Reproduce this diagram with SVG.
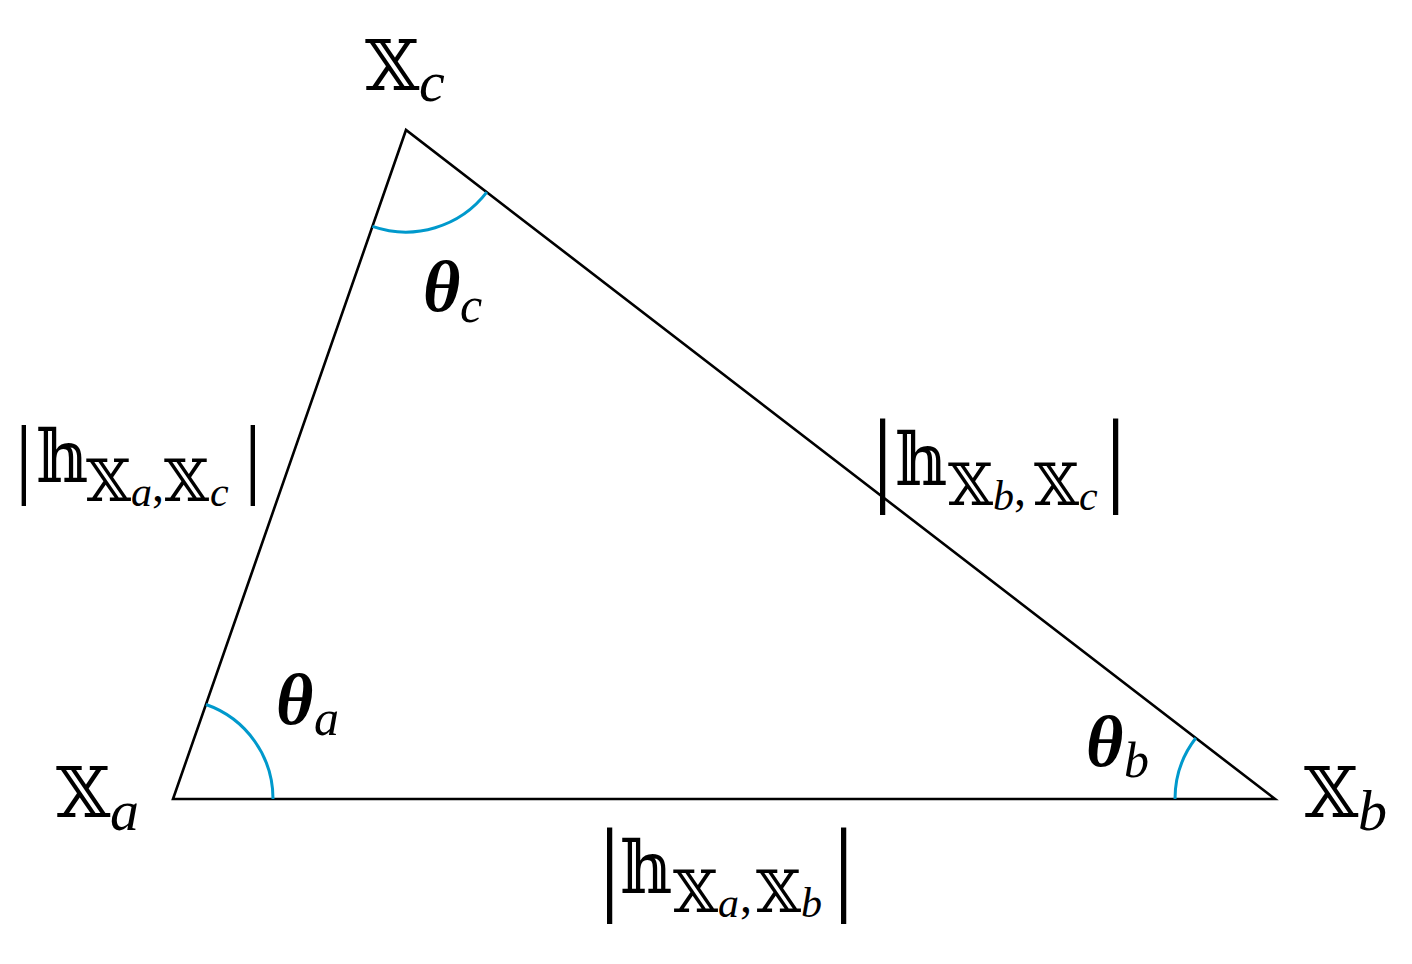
<svg xmlns="http://www.w3.org/2000/svg" width="1412" height="964" viewBox="0 0 1412 964">
<style>
.edge{stroke:#000;stroke-width:2.6;fill:none;stroke-linejoin:miter}
.arc{stroke:#0099cc;stroke-width:3;fill:none}
</style>
<rect width="1412" height="964" fill="#fff"/>
<g id="connectors">
<path class="edge" d="M173,799 L1275,799 L406,130 Z"/>
<path class="arc" d="M273,799 A100,100 0 0 0 206,704.5"/>
<path class="arc" d="M372.4,226.4 A102,102 0 0 0 486.8,192.2"/>
<path class="arc" d="M1175,799 A100,100 0 0 1 1195.8,738"/>
</g>
<g id="node-xa"><text x="56" y="817" font-size="70" font-family="DejaVu Serif">𝕏</text><text x="110" y="830" font-size="58" font-family="Liberation Serif" font-style="italic">a</text></g>
<g id="node-xb"><text x="1304" y="817" font-size="70" font-family="DejaVu Serif">𝕏</text><text x="1358" y="830" font-size="58" font-family="Liberation Serif" font-style="italic">b</text></g>
<g id="node-xc"><text x="365" y="90" font-size="70" font-family="DejaVu Serif">𝕏</text><text x="419" y="101" font-size="58" font-family="Liberation Serif" font-style="italic">c</text></g>
<g id="theta-a"><text x="276" y="724" font-size="72" font-family="Liberation Serif" font-style="italic" font-weight="bold">θ</text><text x="314" y="735" font-size="50" font-family="Liberation Serif" font-style="italic">a</text></g>
<g id="theta-b"><text x="1086" y="766" font-size="72" font-family="Liberation Serif" font-style="italic" font-weight="bold">θ</text><text x="1124" y="777" font-size="50" font-family="Liberation Serif" font-style="italic">b</text></g>
<g id="theta-c"><text x="423" y="311" font-size="72" font-family="Liberation Serif" font-style="italic" font-weight="bold">θ</text><text x="460" y="322" font-size="50" font-family="Liberation Serif" font-style="italic">c</text></g>
<g id="label-ac">
<text x="15" y="487" font-size="88" font-family="Liberation Serif">|</text>
<text x="36" y="482" font-size="72" font-family="DejaVu Serif">𝕙</text>
<text x="86" y="501" font-size="58" font-family="DejaVu Serif">𝕏</text>
<text x="131" y="506" font-size="42" font-family="Liberation Serif" font-style="italic">a</text>
<text x="152" y="501" font-size="48" font-family="Liberation Serif">,</text>
<text x="164" y="501" font-size="58" font-family="DejaVu Serif">𝕏</text>
<text x="210" y="506" font-size="42" font-family="Liberation Serif" font-style="italic">c</text>
<text x="244" y="487" font-size="88" font-family="Liberation Serif">|</text>
</g>
<g id="label-bc">
<text x="872" y="492" font-size="106" font-family="Liberation Serif">|</text>
<text x="895" y="485" font-size="72" font-family="DejaVu Serif">𝕙</text>
<text x="948" y="505" font-size="58" font-family="DejaVu Serif">𝕏</text>
<text x="993" y="510" font-size="42" font-family="Liberation Serif" font-style="italic">b</text>
<text x="1014" y="505" font-size="48" font-family="Liberation Serif">,</text>
<text x="1034" y="505" font-size="58" font-family="DejaVu Serif">𝕏</text>
<text x="1079" y="510" font-size="42" font-family="Liberation Serif" font-style="italic">c</text>
<text x="1105" y="492" font-size="106" font-family="Liberation Serif">|</text>
</g>
<g id="label-ab">
<text x="599" y="901" font-size="106" font-family="Liberation Serif">|</text>
<text x="620" y="893" font-size="72" font-family="DejaVu Serif">𝕙</text>
<text x="673" y="912" font-size="58" font-family="DejaVu Serif">𝕏</text>
<text x="718" y="917" font-size="42" font-family="Liberation Serif" font-style="italic">a</text>
<text x="740" y="912" font-size="48" font-family="Liberation Serif">,</text>
<text x="756" y="912" font-size="58" font-family="DejaVu Serif">𝕏</text>
<text x="801" y="917" font-size="42" font-family="Liberation Serif" font-style="italic">b</text>
<text x="833" y="901" font-size="106" font-family="Liberation Serif">|</text>
</g>
</svg>
